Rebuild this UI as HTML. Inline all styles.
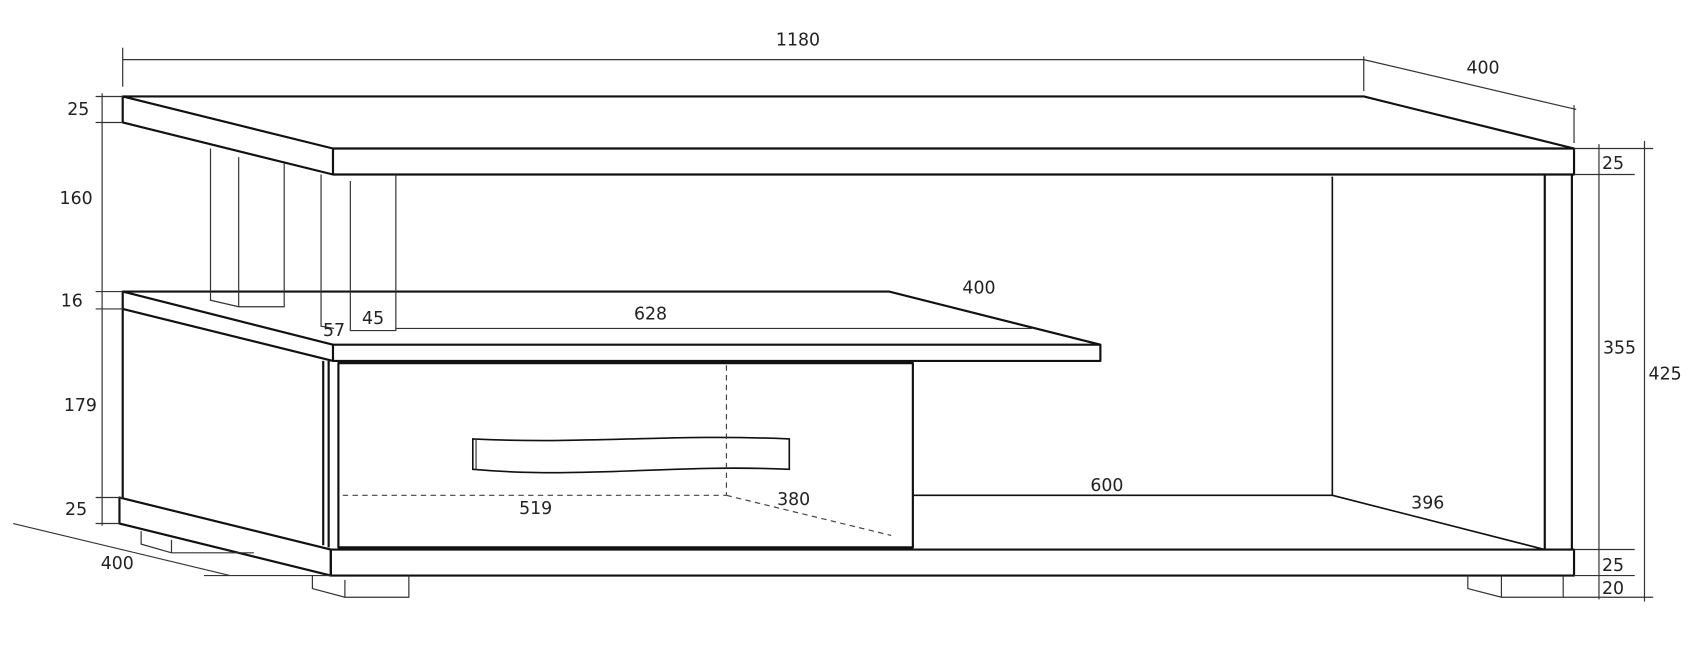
<!DOCTYPE html>
<html><head><meta charset="utf-8"><style>
html,body{margin:0;padding:0;background:#fff;}
svg{display:block;}
text{font-family:"DejaVu Sans","Liberation Sans",sans-serif;font-size:16px;fill:#222;}
</style></head><body>
<svg width="1700" height="646" viewBox="0 0 1568 596" xmlns="http://www.w3.org/2000/svg">
<g fill="none" stroke="#111" stroke-width="2" stroke-linejoin="round">
<path d="M113 89 L1258 89 L1452 137 L1452 161 L307 161 L113 113 Z"/>
<path d="M113 89 L307 137 L1452 137"/>
<line x1="307" y1="137" x2="307" y2="161"/>
<path d="M1425 161 L1425 507 M1450 161 L1450 507"/>
<line x1="1229" y1="163" x2="1229" y2="457" stroke-width="1.5"/>
<path d="M843 457 L1229 457 L1425 507" stroke-width="1.5"/>
<path d="M305 507 L1452 507 L1452 531 L305 531 Z"/>
<path d="M110 459 L305 507 L305 531 L110 483 Z"/>
<path d="M113 269 L820 269 L1015 318 L1015 333 L307 333 L113 285 Z"/>
<path d="M113 269 L307 318 L1015 318"/>
<line x1="307" y1="318" x2="307" y2="333"/>
<path d="M113 285 L113 459"/>
<path d="M298 333 L298 503 M303 333 L303 505"/>
<rect x="312" y="335" width="530" height="170"/>
</g>
<g fill="none" stroke="#333" stroke-width="1.1">
<path d="M194 137 L194 277 L220 283 L262 283 L262 151"/>
<line x1="220" y1="145" x2="220" y2="283"/>
<path d="M296 161 L296 301 L308 303"/>
<path d="M323 167 L323 305 L365 305 L365 161"/>
<line x1="365" y1="303" x2="952" y2="303"/>
<path d="M436 405 C540 410 620 400 728 405 L728 433 C620 428 540 442 436 433 Z" stroke="#111" stroke-width="1.5"/>
<line x1="439" y1="405" x2="439" y2="433"/>
<g stroke-dasharray="5,4" stroke="#444">
<line x1="670" y1="337" x2="670" y2="457"/>
<line x1="316" y1="457" x2="670" y2="457"/>
<line x1="670" y1="457" x2="822" y2="494"/>
</g>
<path d="M130 490 L130 502 L158 510 L234 510"/>
<line x1="158" y1="498" x2="158" y2="510"/>
<path d="M288 531 L288 543 L318 551 L377 551 L377 531"/>
<line x1="318" y1="535" x2="318" y2="551"/>
<path d="M1354 531 L1354 543 L1385 551 L1442 551 L1442 531"/>
<line x1="1385" y1="531" x2="1385" y2="551"/>
<line x1="113" y1="55" x2="1258" y2="55"/>
<line x1="113" y1="44" x2="113" y2="80"/>
<line x1="1258" y1="52" x2="1258" y2="84"/>
<line x1="1258" y1="55" x2="1454" y2="101"/>
<line x1="1452" y1="97" x2="1452" y2="132"/>
<line x1="94" y1="86" x2="94" y2="485"/>
<path d="M88 89 L113 89 M88 113 L113 113 M88 269 L113 269 M88 285 L113 285 M88 459 L113 459 M88 483 L110 483"/>
<line x1="12" y1="483" x2="212" y2="531"/>
<line x1="188" y1="531" x2="305" y2="531"/>
<line x1="1475" y1="133" x2="1475" y2="553"/>
<line x1="1517" y1="130" x2="1517" y2="555"/>
<path d="M1452 137 L1525 137 M1452 161 L1508 161 M1452 507 L1508 507 M1452 531 L1508 531 M1442 551 L1525 551"/>
</g>
<text x="736" y="42" text-anchor="middle">1180</text>
<text x="1368" y="68" text-anchor="middle">400</text>
<text x="72" y="106" text-anchor="middle">25</text>
<text x="70" y="188" text-anchor="middle">160</text>
<text x="66" y="283" text-anchor="middle">16</text>
<text x="74" y="379" text-anchor="middle">179</text>
<text x="70" y="475" text-anchor="middle">25</text>
<text x="108" y="525" text-anchor="middle">400</text>
<text x="903" y="271" text-anchor="middle">400</text>
<text x="600" y="295" text-anchor="middle">628</text>
<text x="308" y="310" text-anchor="middle">57</text>
<text x="344" y="299" text-anchor="middle">45</text>
<text x="494" y="474" text-anchor="middle">519</text>
<text x="732" y="466" text-anchor="middle">380</text>
<text x="1021" y="453" text-anchor="middle">600</text>
<text x="1317" y="469" text-anchor="middle">396</text>
<text x="1488" y="156" text-anchor="middle">25</text>
<text x="1494" y="326" text-anchor="middle">355</text>
<text x="1536" y="350" text-anchor="middle">425</text>
<text x="1488" y="527" text-anchor="middle">25</text>
<text x="1488" y="548" text-anchor="middle">20</text>
</svg>
</body></html>
